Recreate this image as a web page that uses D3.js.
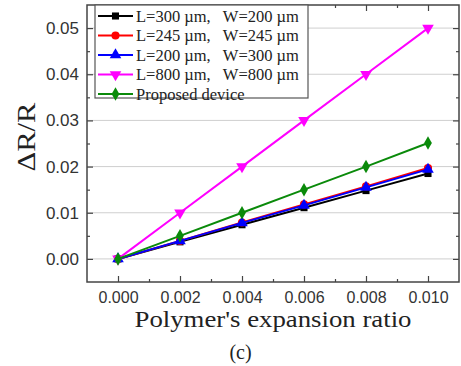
<!DOCTYPE html>
<html>
<head>
<meta charset="utf-8">
<script src="https://cdn.jsdelivr.net/npm/d3@7"></script>
<style>
  body { margin: 0; background: #fff; }
  svg { display: block; }
</style>
</head>
<body>
<div id="chart"></div>
<script>
// expansion ratio (x) values
const ratios = [0, 0.002, 0.004, 0.006, 0.008, 0.010];

// dR/R for each device
const dev_300_200 = [0, 0.0037, 0.0074, 0.0111, 0.0148, 0.0185];
const dev_245_245 = [0, 0.0039, 0.0079, 0.0118, 0.0157, 0.0197];
const dev_200_300 = [0, 0.0039, 0.0078, 0.0116, 0.0155, 0.0194];
const dev_800_800 = [0, 0.0100, 0.0200, 0.0300, 0.0400, 0.0500];
const dev_proposed = [0, 0.0050, 0.0100, 0.0150, 0.0200, 0.0251];

const seriesNames = [
    "L=300 µm,   W=200 µm",
    "L=245 µm,   W=245 µm",
    "L=200 µm,   W=300 µm",
    "L=800 µm,   W=800 µm",
    "Proposed device"
];

const xTicks = [0, 0.002, 0.004, 0.006, 0.008, 0.010];
const yTicks = [0, 0.01, 0.02, 0.03, 0.04, 0.05];

const width = 461;
const height = 366;
const margin = {top: 5, right: 2, bottom: 84, left: 87};

const svg = d3.select("#chart").append("svg")
    .attr("width", width)
    .attr("height", height);

svg.append("rect").attr("width", width).attr("height", height).attr("fill", "#fff");

const x = d3.scaleLinear()
    .domain([-0.001, 0.011])
    .range([margin.left, width - margin.right]);

const y = d3.scaleLinear()
    .domain([-0.005, 0.055])
    .range([height - margin.bottom, margin.top]);

// horizontal grid lines
svg.append("g")
    .selectAll("line")
    .data(yTicks)
    .enter()
    .append("line")
    .attr("x1", x.range()[0])
    .attr("x2", x.range()[1])
    .attr("y1", d => y(d))
    .attr("y2", d => y(d))
    .attr("stroke", "#cfcfcf")
    .attr("stroke-width", 1);

const axisColor = "#444";
const tickFont = "'Liberation Sans', Arial, sans-serif";

function styleAxis(g, size) {
    g.select(".domain").remove();
    g.selectAll("line").attr("stroke", axisColor).attr("stroke-width", 1.2);
    g.selectAll("text")
        .attr("fill", "#333")
        .style("font-family", tickFont)
        .style("font-size", (size || 17) + "px");
}

const xMinor = [0.001, 0.003, 0.005, 0.007, 0.009];
const yMinor = [0.005, 0.015, 0.025, 0.035, 0.045];

// bottom axis
svg.append("g")
    .attr("transform", `translate(0, ${y.range()[0]})`)
    .call(d3.axisBottom(x).tickValues(xTicks).tickFormat(d3.format(".3f")).tickSize(-6).tickPadding(9.5))
    .call(g => styleAxis(g, 16));
svg.append("g")
    .attr("transform", `translate(0, ${y.range()[0]})`)
    .call(d3.axisBottom(x).tickValues(xMinor).tickFormat("").tickSize(-3))
    .call(styleAxis);

// top axis
svg.append("g")
    .attr("transform", `translate(0, ${y.range()[1]})`)
    .call(d3.axisTop(x).tickValues(xTicks).tickFormat("").tickSize(-6))
    .call(styleAxis);
svg.append("g")
    .attr("transform", `translate(0, ${y.range()[1]})`)
    .call(d3.axisTop(x).tickValues(xMinor).tickFormat("").tickSize(-3))
    .call(styleAxis);

// left axis
svg.append("g")
    .attr("transform", `translate(${x.range()[0]}, 0)`)
    .call(d3.axisLeft(y).tickValues(yTicks).tickFormat(d3.format(".2f")).tickSize(-6).tickPadding(8))
    .call(g => styleAxis(g, 17));
svg.append("g")
    .attr("transform", `translate(${x.range()[0]}, 0)`)
    .call(d3.axisLeft(y).tickValues(yMinor).tickFormat("").tickSize(-3))
    .call(styleAxis);

// right axis
svg.append("g")
    .attr("transform", `translate(${x.range()[1]}, 0)`)
    .call(d3.axisRight(y).tickValues(yTicks).tickFormat("").tickSize(-6))
    .call(styleAxis);
svg.append("g")
    .attr("transform", `translate(${x.range()[1]}, 0)`)
    .call(d3.axisRight(y).tickValues(yMinor).tickFormat("").tickSize(-3))
    .call(styleAxis);

// frame
svg.append("rect")
    .attr("x", x.range()[0])
    .attr("y", y.range()[1])
    .attr("width", x.range()[1] - x.range()[0])
    .attr("height", y.range()[0] - y.range()[1])
    .attr("fill", "none")
    .attr("stroke", axisColor)
    .attr("stroke-width", 1.5);

const series = [
    {name: seriesNames[0], values: dev_300_200, color: "#000000", symbol: d3.symbolSquare, size: 50, rot: 0},
    {name: seriesNames[1], values: dev_245_245, color: "#ff0000", symbol: d3.symbolCircle, size: 52, rot: 0},
    {name: seriesNames[2], values: dev_200_300, color: "#0000ff", symbol: d3.symbolTriangle, size: 58, rot: 0},
    {name: seriesNames[3], values: dev_800_800, color: "#ff00ff", symbol: d3.symbolTriangle, size: 58, rot: 180},
    {name: seriesNames[4], values: dev_proposed, color: "#0a8a0a", symbol: d3.symbolDiamond, size: 52, rot: 0}
];

const line = d3.line()
    .x(d => x(d[0]))
    .y(d => y(d[1]));

series.forEach(s => {
    const pts = ratios.map((r, i) => [r, s.values[i]]);
    const g = svg.append("g");
    g.append("path")
        .datum(pts)
        .attr("d", line)
        .attr("fill", "none")
        .attr("stroke", s.color)
        .attr("stroke-width", 2);
    g.selectAll("path.pt")
        .data(pts)
        .enter()
        .append("path")
        .attr("class", "pt")
        .attr("d", d3.symbol().type(s.symbol).size(s.size))
        .attr("transform", d => `translate(${x(d[0])}, ${y(d[1])}) rotate(${s.rot})`)
        .attr("fill", s.color);
});

// legend
const legend = svg.append("g").attr("transform", "translate(95, 5)");
legend.append("rect")
    .attr("width", 213)
    .attr("height", 93)
    .attr("fill", "#fff")
    .attr("stroke", "#555")
    .attr("stroke-width", 1.2);

series.forEach((s, i) => {
    const row = legend.append("g").attr("transform", `translate(0, ${11 + i * 19.5})`);
    row.append("line")
        .attr("x1", 3).attr("x2", 38)
        .attr("stroke", s.color)
        .attr("stroke-width", 2);
    row.append("path")
        .attr("d", d3.symbol().type(s.symbol).size(s.size))
        .attr("transform", `translate(20.5, 0) rotate(${s.rot})`)
        .attr("fill", s.color);
    row.append("text")
        .attr("x", 41)
        .attr("dy", "0.35em")
        .style("white-space", "pre")
        .attr("xml:space", "preserve")
        .style("font-family", "'Liberation Serif', 'Times New Roman', serif")
        .style("font-size", "16.5px")
        .attr("fill", "#222")
        .text(s.name);
});

// axis titles
svg.append("text")
    .attr("x", (x.range()[0] + x.range()[1]) / 2)
    .attr("y", 327)
    .attr("text-anchor", "middle")
    .attr("textLength", 277)
    .attr("lengthAdjust", "spacingAndGlyphs")
    .style("font-family", "'Liberation Serif', 'Times New Roman', serif")
    .style("font-size", "23px")
    .attr("fill", "#222")
    .text("Polymer's expansion ratio");

svg.append("text")
    .attr("transform", "translate(35, 137) rotate(-90)")
    .attr("text-anchor", "middle")
    .attr("textLength", 69)
    .attr("lengthAdjust", "spacingAndGlyphs")
    .style("font-family", "'Liberation Serif', 'Times New Roman', serif")
    .style("font-size", "26px")
    .attr("fill", "#222")
    .text("ΔR/R");

svg.append("text")
    .attr("x", 240.5)
    .attr("y", 359)
    .attr("text-anchor", "middle")
    .style("font-family", "'Liberation Serif', 'Times New Roman', serif")
    .style("font-size", "20px")
    .attr("fill", "#222")
    .text("(c)");
</script>
</body>
</html>
